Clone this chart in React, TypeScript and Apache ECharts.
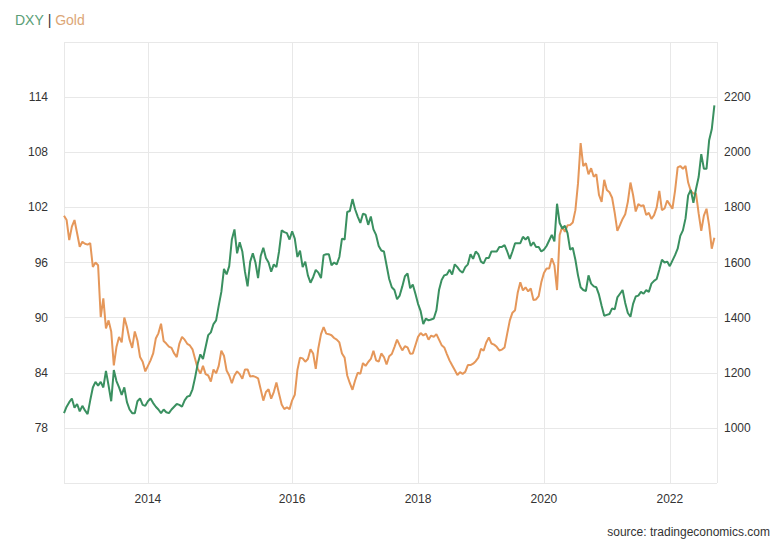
import React, { useEffect, useRef } from "react";
import * as echarts from "echarts";

// DXY readings: samples ~every 13 days before 2016, semi-monthly from 2016
const dxy2012to2013 = [
  79.6, 80.3, 80.8, 81.2, 80.2, 80.6, 79.8, 80.4, 79.9, 79.5,
  81.0, 82.4, 83.0, 82.6, 83.0, 82.4, 84.2, 82.6, 80.9, 84.3,
  83.1, 82.4, 81.6, 82.4, 80.8, 80.0, 79.6, 79.6, 80.9, 81.2,
  80.5, 80.4,
];
const dxy2014to2015 = [
  80.9, 81.2, 80.7, 80.3, 80.0, 79.6, 80.0, 79.7, 79.6, 80.0,
  80.3, 80.6, 80.5, 80.3, 81.0, 81.4, 81.5, 82.2, 83.5, 85.0,
  86.0, 85.5, 86.8, 88.1, 88.4, 89.3, 89.7, 91.3, 92.8, 95.3,
  94.7, 95.6, 98.5, 99.6, 97.0, 98.2, 97.2, 95.0, 93.4, 96.1,
  97.0, 96.0, 94.3, 96.7, 97.6, 96.5, 96.0, 95.0, 95.8, 95.5,
  97.2, 99.5, 99.3, 99.2, 98.5,
];
const dxy2016to2017 = [
  99.4, 98.6, 96.6, 97.3, 95.5, 96.1, 94.6, 93.8, 94.4, 95.2,
  94.9, 94.3, 96.8, 96.9, 96.9, 95.7, 96.0, 95.8, 96.6, 98.6,
  98.5, 101.5, 101.6, 102.9, 101.8, 101.0, 100.3, 101.3, 101.2, 100.1,
  101.0, 99.6, 99.0, 97.8, 97.3, 97.2, 95.7, 94.2, 93.3, 93.0,
  92.0, 92.4, 93.4, 94.5, 94.8, 93.2, 93.6, 92.6,
];
const dxy2018to2019 = [
  91.5, 90.7, 89.3, 89.9, 89.7, 89.8, 89.9, 90.8, 93.0, 94.1,
  94.6, 94.7, 95.2, 94.7, 95.8, 95.5, 95.1, 94.9, 95.5, 95.8,
  96.9, 96.4, 97.2, 96.9, 96.1, 95.9, 96.5, 96.5, 97.2, 97.2,
  97.2, 97.7, 97.7, 97.9, 97.2, 96.4, 97.2, 98.1, 98.1, 98.1,
  98.8, 98.5, 98.8, 97.8, 98.2, 97.7, 97.7, 97.2,
];
const dxy2020to2021 = [
  97.4, 97.8, 98.4, 99.0, 98.3, 102.4, 100.3, 99.7, 100.0, 99.2,
  97.4, 97.6, 96.3, 94.6, 93.3, 93.0, 92.9, 94.6, 93.7, 93.4,
  93.3, 92.5, 91.3, 90.2, 90.3, 90.4, 91.0, 90.9, 92.2, 92.6,
  93.0, 91.6, 90.5, 90.1, 91.5, 92.3, 92.4, 92.8, 92.6, 93.0,
  92.8, 93.7, 94.0, 94.2, 95.2, 96.3, 96.0, 96.1,
];
const dxy2022 = [
  95.6, 96.2, 96.8, 97.5, 98.9, 99.5, 100.8, 103.3, 103.9, 102.5,
  104.0, 105.3, 107.8, 106.2, 106.2, 109.3, 110.5, 113.1,
];

// Gold readings (USD/oz), same samples
const gold2012to2013 = [
  1770, 1754, 1681, 1730, 1754, 1706, 1657, 1675, 1668, 1665,
  1670, 1584, 1600, 1590, 1402, 1470, 1361, 1390, 1350, 1227,
  1293, 1330, 1310, 1400, 1366, 1320, 1290, 1350, 1317, 1257,
  1240, 1205,
];
const gold2014to2015 = [
  1225, 1245, 1270, 1324, 1343, 1378, 1315, 1306, 1295, 1290,
  1270, 1257, 1306, 1330, 1320, 1305, 1299, 1285, 1250, 1215,
  1197, 1225, 1195, 1190, 1168, 1212, 1198, 1225, 1280, 1262,
  1208, 1190, 1162, 1190, 1205, 1195, 1178, 1212, 1212, 1186,
  1188, 1185, 1180, 1140, 1099, 1130, 1140, 1106, 1130, 1165,
  1124, 1085, 1068, 1075, 1068,
];
const gold2016to2017 = [
  1100, 1120, 1210, 1255, 1252, 1240, 1250, 1285, 1270, 1214,
  1290, 1340, 1366, 1342, 1340, 1336, 1326, 1320, 1310, 1270,
  1255, 1190, 1162, 1138, 1172, 1200, 1196, 1235, 1225, 1239,
  1250, 1280, 1245, 1240, 1270, 1257, 1230, 1260, 1268, 1293,
  1320, 1300, 1281, 1296, 1292, 1269, 1270, 1300,
];
const gold2018to2019 = [
  1330, 1344, 1335, 1342, 1320, 1335, 1330, 1340, 1320, 1300,
  1292, 1268, 1245, 1227, 1210, 1192, 1202, 1196, 1203, 1228,
  1228, 1233, 1242, 1255, 1287, 1280, 1310, 1328, 1306, 1302,
  1294, 1281, 1284, 1292, 1342, 1390, 1418, 1427, 1490, 1528,
  1499, 1510, 1495, 1506, 1464, 1466, 1478, 1528,
];
const gold2020to2021 = [
  1562, 1578, 1578, 1615, 1590, 1500, 1700, 1730, 1711, 1735,
  1736, 1745, 1790, 1887, 2033, 1950, 1960, 1920, 1942, 1911,
  1920, 1845, 1820, 1900, 1863, 1855, 1835, 1780, 1715, 1736,
  1758, 1775, 1820, 1890, 1845, 1785, 1812, 1805, 1808, 1772,
  1780, 1758, 1772, 1800, 1860, 1790, 1796, 1825,
];
const gold2022 = [
  1810, 1795, 1860, 1945, 1950, 1940, 1950, 1890, 1860, 1850,
  1850, 1778, 1715, 1770, 1795, 1735, 1650, 1690,
];

const yearLabels = ["2014", "2016", "2018", "2020", "2022"];
const leftTicks = [78, 84, 90, 96, 102, 108, 114];
const rightTicks = [1000, 1200, 1400, 1600, 1800, 2000, 2200];

const dxy: (number | null)[] = [
  ...dxy2012to2013, ...dxy2014to2015, ...dxy2016to2017, ...dxy2018to2019, ...dxy2020to2021, ...dxy2022,
];
const gold: (number | null)[] = [
  ...gold2012to2013, ...gold2014to2015, ...gold2016to2017, ...gold2018to2019, ...gold2020to2021, ...gold2022,
];

// sample dates: 55 samples over 2014-2015 (and before), 24 per year from 2016
const ANCHOR = Date.UTC(2016, 0, 1);
const DAY = 86400000;
const N_BEFORE = dxy2012to2013.length + dxy2014to2015.length;
const STEP_BEFORE = 730 / dxy2014to2015.length;
const STEP_AFTER = 365.25 / 24;
const TOTAL = dxy.length + 1;
const categories: string[] = [];
for (let i = 0; i < TOTAL; i++) {
  const days =
    i < N_BEFORE ? -Math.round((N_BEFORE - i) * STEP_BEFORE) : Math.round((i - N_BEFORE) * STEP_AFTER);
  categories.push(new Date(ANCHOR + days * DAY).toISOString().slice(0, 10));
}
while (dxy.length < TOTAL) dxy.push(null);
while (gold.length < TOTAL) gold.push(null);

const tickIdx = yearLabels.map((y) => categories.findIndex((c) => c.slice(0, 4) === y));
const gridIdx = [0, ...tickIdx, TOTAL - 1];

const FONT = "'Liberation Sans', Arial, Helvetica, sans-serif";

export default function App() {
  const ref = useRef<HTMLDivElement>(null);
  useEffect(() => {
    if (!ref.current) return;
    const chart = echarts.init(ref.current, undefined, { renderer: "svg" });
    chart.setOption({
      animation: false,
      backgroundColor: "#ffffff",
      textStyle: { fontFamily: FONT },
      title: {
        text: "{g|DXY} | {o|Gold}",
        left: 10,
        top: 8,
        textStyle: {
          fontSize: 14,
          fontWeight: "normal",
          color: "#333333",
          fontFamily: FONT,
          rich: {
            g: { color: "#5a9e76", fontSize: 14, fontFamily: FONT },
            o: { color: "#dca676", fontSize: 14, fontFamily: FONT },
          },
        },
      },
      grid: { left: 64, right: 62, top: 42, bottom: 58 },
      xAxis: {
        type: "category",
        data: categories,
        boundaryGap: false,
        axisLine: { show: false },
        axisTick: { show: false },
        axisLabel: {
          interval: (i: number) => tickIdx.includes(i),
          formatter: (v: string) => v.slice(0, 4),
          color: "#333333",
          fontSize: 12,
          margin: 10,
          fontFamily: FONT,
        },
        splitLine: {
          show: true,
          interval: (i: number) => gridIdx.includes(i),
          lineStyle: { color: "#e8e8e8", width: 1 },
        },
      },
      yAxis: [
        {
          type: "value",
          position: "left",
          min: 72,
          max: 120,
          interval: 6,
          axisLine: { show: false },
          axisTick: { show: false },
          axisLabel: {
            formatter: (v: number) => (leftTicks.includes(v) ? String(v) : ""),
            color: "#333333",
            fontSize: 12,
            margin: 16,
            fontFamily: FONT,
          },
          splitLine: { show: true, lineStyle: { color: "#e8e8e8", width: 1 } },
        },
        {
          type: "value",
          position: "right",
          min: 800,
          max: 2400,
          interval: 200,
          axisLine: { show: false },
          axisTick: { show: false },
          axisLabel: {
            formatter: (v: number) => (rightTicks.includes(v) ? String(v) : ""),
            color: "#333333",
            fontSize: 12,
            margin: 7,
            fontFamily: FONT,
          },
          splitLine: { show: false },
        },
      ],
      series: [
        {
          name: "Gold",
          type: "line",
          yAxisIndex: 1,
          data: gold,
          symbol: "none",
          lineStyle: { color: "#e5975a", width: 2 },
          itemStyle: { color: "#e5975a" },
        },
        {
          name: "DXY",
          type: "line",
          yAxisIndex: 0,
          data: dxy,
          symbol: "none",
          lineStyle: { color: "#3a9060", width: 2 },
          itemStyle: { color: "#3a9060" },
        },
      ],
      graphic: [
        {
          type: "text",
          right: 9,
          top: 526,
          style: {
            text: "source: tradingeconomics.com",
            fontSize: 12,
            fill: "#333333",
            fontFamily: FONT,
          },
        },
      ],
    });
    return () => chart.dispose();
  }, []);
  return (
    <div
      ref={ref}
      style={{ position: "fixed", left: 0, top: 0, width: 779, height: 541 }}
    />
  );
}
